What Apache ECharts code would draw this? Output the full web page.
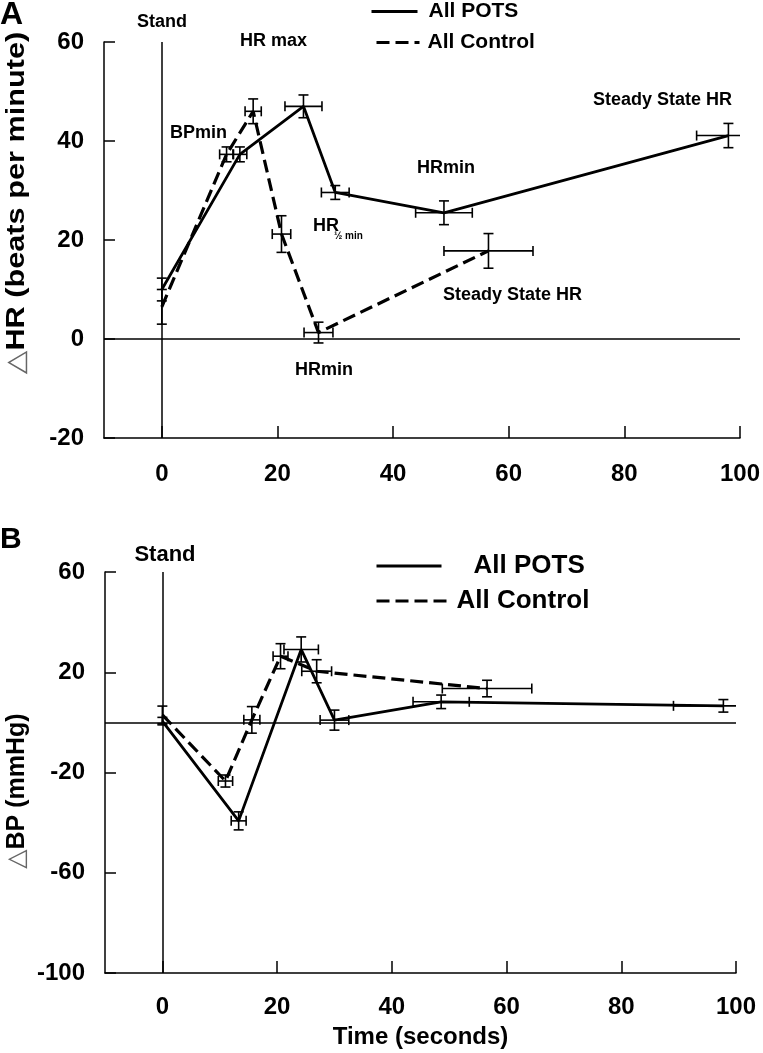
<!DOCTYPE html>
<html><head><meta charset="utf-8">
<script src="https://cdn.jsdelivr.net/npm/echarts@6/dist/echarts.min.js"></script>
<style>html,body{margin:0;padding:0;background:#fff}#c{width:763px;height:1053px}</style>
</head><body><div id="c"></div>
<script>
// ---------- DATA ----------
const xTickValues = [0, 20, 40, 60, 80, 100];
const hrYTickValues = [-20, 0, 20, 40, 60];
const bpYTickValues = [-100, -60, -20, 20, 60];
const seriesNames = ['All POTS', 'All Control'];

// Panel A: change in heart rate
const hrPotsX    = [0, 13.5, 24.5, 30.0, 48.8, 98.0];
const hrPotsY    = [10.0, 37.3, 47.0, 29.6, 25.5, 41.1];
const hrPotsXErr = [0, 1.2, 3.2, 2.4, 4.9, 5.5];
const hrPotsYErr = [2.3, 1.5, 2.3, 1.4, 2.4, 2.45];

const hrCtrlX    = [0, 11.2, 15.8, 20.7, 27.1, 56.5];
const hrCtrlY    = [6.5, 37.3, 46.0, 21.2, 1.3, 17.8];
const hrCtrlXErr = [0, 1.2, 1.4, 1.6, 2.5, 7.7];
const hrCtrlYErr = [3.5, 1.5, 2.5, 3.7, 2.1, 3.5];

// Panel B: change in blood pressure
const bpPotsX    = [0, 13.3, 24.2, 30.0, 48.6, 97.8];
const bpPotsY    = [0.5, -39.3, 29.1, 0.9, 8.2, 6.6];
const bpPotsXErr = [0, 1.3, 3.0, 2.5, 4.9, 8.7];
const bpPotsYErr = [1.5, 3.6, 5.0, 4.0, 2.7, 2.5];

const bpCtrlX    = [0, 11.0, 15.6, 20.6, 26.9, 56.6];
const bpCtrlY    = [3.0, -23.4, 1.0, 26.4, 20.4, 13.5];
const bpCtrlXErr = [0, 1.25, 1.4, 1.3, 2.6, 7.8];
const bpCtrlYErr = [3.5, 2.4, 5.3, 5.0, 4.6, 3.3];

// ---------- CHART ----------
const FF = '"Liberation Sans", Arial, sans-serif';
const chart = echarts.init(document.getElementById('c'), null, {renderer: 'canvas'});

function pts(xs, ys) { return xs.map((x, i) => [x, ys[i]]); }
function errPts(xs, ys, ex, ey) { return xs.map((x, i) => [x, ys[i], ex[i], ey[i]]); }

function errSeries(idx, data) {
  return {
    type: 'custom', xAxisIndex: idx, yAxisIndex: idx, data: data, z: 4, silent: true, clip: true,
    renderItem: function (params, api) {
      const x = api.value(0), y = api.value(1), ex = api.value(2), ey = api.value(3);
      const c = api.coord([x, y]);
      const cap = 5;
      const st = {stroke: '#000', lineWidth: 1.6};
      const ch = [];
      const ln = (x1, y1, x2, y2) => ({type: 'line', shape: {x1, y1, x2, y2}, style: st});
      if (ey > 0) {
        const t = api.coord([x, y + ey])[1], b = api.coord([x, y - ey])[1];
        ch.push(ln(c[0], t, c[0], b), ln(c[0] - cap, t, c[0] + cap, t), ln(c[0] - cap, b, c[0] + cap, b));
      }
      if (ex > 0) {
        const l = api.coord([x - ex, y])[0], r = api.coord([x + ex, y])[0];
        ch.push(ln(l, c[1], r, c[1]), ln(l, c[1] - cap, l, c[1] + cap), ln(r, c[1] - cap, r, c[1] + cap));
      }
      return {type: 'group', children: ch};
    }
  };
}

function lineSeries(idx, name, data, dashed, withRef) {
  const s = {
    type: 'line', name: name, xAxisIndex: idx, yAxisIndex: idx, data: data,
    symbol: 'none', z: 3,
    lineStyle: {color: '#000', width: dashed ? 3.2 : 2.8, type: dashed ? [13, 6] : 'solid'},
    itemStyle: {color: '#000'}
  };
  if (withRef) {
    s.markLine = {
      silent: true, symbol: ['none', 'none'], label: {show: false},
      lineStyle: {color: '#000', width: 1.5, type: 'solid'},
      data: [{xAxis: 0}, {yAxis: 0}]
    };
  }
  return s;
}

function xAxis(idx, fs, margin, name) {
  const a = {
    type: 'value', gridIndex: idx, min: -10, max: 100,
    axisLine: {onZero: false, lineStyle: {color: '#000', width: 1.5}},
    axisTick: {inside: true, length: 12, customValues: xTickValues, lineStyle: {color: '#000', width: 1.5}},
    axisLabel: {customValues: xTickValues, margin: margin, color: '#000', fontFamily: FF, fontWeight: 'bold', fontSize: fs},
    splitLine: {show: false}
  };
  if (name) {
    a.name = name; a.nameLocation = 'middle'; a.nameGap = 52;
    a.nameTextStyle = {color: '#000', fontFamily: FF, fontWeight: 'bold', fontSize: 24};
  }
  return a;
}

function yAxis(idx, min, max, ticks) {
  return {
    type: 'value', gridIndex: idx, min: min, max: max,
    axisLine: {show: true, onZero: false, lineStyle: {color: '#000', width: 1.5}},
    axisTick: {show: true, inside: true, length: 11, customValues: ticks, lineStyle: {color: '#000', width: 1.5}},
    axisLabel: {customValues: ticks, margin: 20, color: '#000', fontFamily: FF, fontWeight: 'bold', fontSize: 24},
    splitLine: {show: false}
  };
}

function legend(name, left, top, w, fs, pad) {
  return {
    data: [name], left: left, top: top, itemWidth: w, itemHeight: 14, selectedMode: false,
    padding: 0,
    itemStyle: {opacity: 0, color: 'transparent', borderWidth: 0},
    lineStyle: {width: 3},
    textStyle: {color: '#000', fontFamily: FF, fontWeight: 'bold', fontSize: fs, padding: [0, 0, 0, pad]}
  };
}

function txt(x, y, text, fs, align) {
  return {type: 'text', x: x, y: y, silent: true,
    style: {text: text, fill: '#000', font: 'bold ' + fs + 'px ' + FF, textAlign: align || 'left', textVerticalAlign: 'middle'}};
}

function ytitle(x, y, text, fs, stretch) {
  return {type: 'text', x: x, y: y, rotation: Math.PI / 2, scaleX: stretch, silent: true,
    style: {
      text: '{t|△}{h|' + text + '}', textAlign: 'center', textVerticalAlign: 'middle',
      rich: {
        t: {fill: '#666', font: 'normal ' + fs + 'px "DejaVu Sans", sans-serif'},
        h: {fill: '#000', font: 'bold ' + fs + 'px ' + FF}
      }
    }};
}

const option = {
  animation: false,
  backgroundColor: '#fff',
  grid: [
    {left: 104, top: 42, width: 638, height: 396},
    {left: 105, top: 572, width: 631, height: 401}
  ],
  xAxis: [xAxis(0, 24, 24), xAxis(1, 24, 22, 'Time (seconds)')],
  yAxis: [yAxis(0, -20, 60, hrYTickValues), yAxis(1, -100, 60, bpYTickValues)],
  legend: [
    legend(seriesNames[0], 370, 1, 46, 21, 6),
    legend(seriesNames[1], 375, 32, 43, 21, 3),
    legend(seriesNames[0], 375, 553, 65, 26, 27),
    legend(seriesNames[1], 375, 588, 70, 26, 5)
  ],
  series: [
    lineSeries(0, seriesNames[0], pts(hrPotsX, hrPotsY), false, true),
    lineSeries(0, seriesNames[1], pts(hrCtrlX, hrCtrlY), true, false),
    errSeries(0, errPts(hrPotsX, hrPotsY, hrPotsXErr, hrPotsYErr)),
    errSeries(0, errPts(hrCtrlX, hrCtrlY, hrCtrlXErr, hrCtrlYErr)),
    lineSeries(1, seriesNames[0], pts(bpPotsX, bpPotsY), false, true),
    lineSeries(1, seriesNames[1], pts(bpCtrlX, bpCtrlY), true, false),
    errSeries(1, errPts(bpPotsX, bpPotsY, bpPotsXErr, bpPotsYErr)),
    errSeries(1, errPts(bpCtrlX, bpCtrlY, bpCtrlXErr, bpCtrlYErr))
  ],
  graphic: [
    txt(0, 15, 'A', 32),
    txt(0, 540, 'B', 30),
    ytitle(17, 203, 'HR (beats per minute)', 26, 1.18),
    ytitle(17, 791, 'BP (mmHg)', 25, 1),
    txt(162, 22, 'Stand', 18, 'center'),
    txt(240, 41, 'HR max', 18),
    txt(170, 133, 'BPmin', 18),
    txt(313, 226, 'HR', 18),
    txt(334, 236, '½ min', 10),
    txt(417, 168, 'HRmin', 18),
    txt(593, 100, 'Steady State HR', 18),
    txt(443, 295, 'Steady State HR', 18),
    txt(295, 370, 'HRmin', 18),
    txt(165, 555, 'Stand', 22, 'center')
  ]
};
chart.setOption(option);
</script>
</body></html>
